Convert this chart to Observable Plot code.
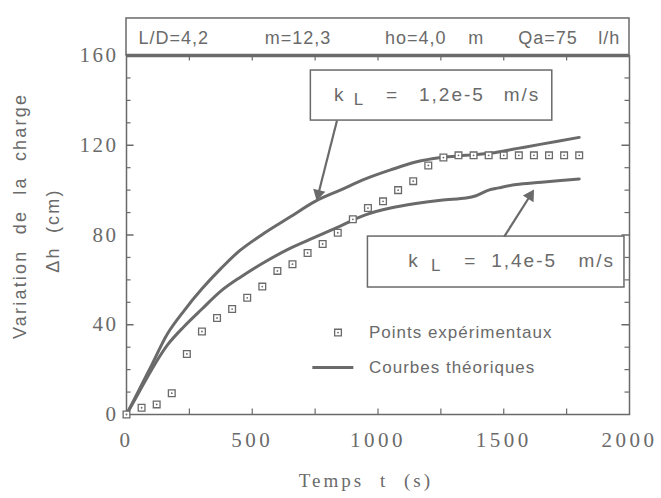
<!DOCTYPE html>
<html>
<head>
<meta charset="utf-8">
<script src="https://cdn.jsdelivr.net/npm/d3@7"></script>
<script src="https://cdn.jsdelivr.net/npm/@observablehq/plot@0.6"></script>
<style>
  html, body { margin: 0; padding: 0; background: #fff; }
  #chart svg { display: block; }
</style>
</head>
<body>
<div id="chart"></div>
<script>
// Experimental points (Points expérimentaux)
const expT = [0,60,120,180,240,300,360,420,480,540,600,660,720,780,840,900,960,1020,1080,1140,1200,1260,1320,1380,1440,1500,1560,1620,1680,1740,1800];
const expH = [0,3,4.5,9.5,27,37,43,47,52,57,64,67,72,76,81,87,92,95,100,104,111,114.5,115.5,115.5,115.5,115.5,115.5,115.5,115.5,115.5,115.5];

// Theoretical curve kL = 1.2e-5 m/s
const upT = [0,50,100,163,227,300,375,450,550,650,750,850,950,1050,1150,1250,1350,1450,1550,1650,1800];
const upH = [0,11,22,36,46,56,65,73,81,88,95,100,105,109,112.5,114.5,115.5,116.5,118.5,120.5,123.5];

// Theoretical curve kL = 1.4e-5 m/s
const loT = [0,50,100,163,227,300,375,450,550,650,750,850,950,1050,1150,1250,1350,1390,1440,1480,1550,1650,1800];
const loH = [0,10,20,31,39,47,55,61,68,74,79,84,89,92,94,95.5,96.5,97.5,100,101,102.5,103.5,105];

// Axis ticks
const xLabelTicks = [0,500,1000,1500,2000];
const xMinorTicks = [250,500,750,1000,1250,1500,1750];
const yLabelTicks = [0,40,80,120,160];
const yMinorTicks = [10,20,30,50,60,70,90,100,110,130,140,150];
const yMajorTicks = [40,80,120];

// Header texts
const headerTexts = ["L/D=4,2", "m=12,3", "ho=4,0", "m", "Qa=75", "l/h"];
const headerX = [48, 550, 1028, 1359, 1558, 1876];

const gray = "#6a6a6a";
const sans = "'Liberation Sans', Arial, sans-serif";
const serif = "'Liberation Serif', 'Times New Roman', serif";

const exp = expT.map((t, i) => ({t, h: expH[i]}));
const up = upT.map((t, i) => ({t, h: upH[i]}));
const lo = loT.map((t, i) => ({t, h: loH[i]}));
const header = headerTexts.map((s, i) => ({s, t: headerX[i]}));

const chart = Plot.plot({
  width: 661,
  height: 498,
  marginLeft: 126,
  marginRight: 32,
  marginTop: 55,
  marginBottom: 84,
  style: {fontFamily: sans, color: gray, background: "#fff"},
  x: {domain: [0, 2000]},
  y: {domain: [0, 160]},
  marks: [
    // header box
    Plot.rect([0], {x1: 0, x2: 2000, y1: 160, y2: 176.5, fill: "white", stroke: gray, strokeWidth: 1.5}),
    Plot.text(header, {x: "t", y: 167.6, text: "s", textAnchor: "start", fontSize: 18, fill: gray, fontFamily: sans}),
    // frame
    Plot.frame({stroke: gray, strokeWidth: 1.5}),
    Plot.ruleY([160], {stroke: gray, strokeWidth: 3.5}),
    // inward ticks
    Plot.ruleX(xMinorTicks, {y1: 0, y2: 2.4, stroke: gray, strokeWidth: 1.2}),
    Plot.ruleX(xMinorTicks, {y1: 160, y2: 157.6, stroke: gray, strokeWidth: 1.2}),
    Plot.ruleY(yMinorTicks, {x1: 0, x2: 18, stroke: gray, strokeWidth: 1.2}),
    Plot.ruleY(yMajorTicks, {x1: 0, x2: 30, stroke: gray, strokeWidth: 1.5}),
    Plot.ruleY(yMinorTicks, {x1: 2000, x2: 1982, stroke: gray, strokeWidth: 1.2}),
    Plot.ruleY(yMajorTicks, {x1: 2000, x2: 1970, stroke: gray, strokeWidth: 1.5}),
    // axes labels
    Plot.axisX({ticks: xLabelTicks, tickFormat: "d", tickSize: 0, tickPadding: 18, fontSize: 21, fontFamily: serif, fill: gray, label: null}),
    Plot.axisY({ticks: yLabelTicks, tickFormat: "d", tickSize: 0, tickPadding: 8, fontSize: 21, fontFamily: serif, fill: gray, label: null}),
    Plot.text(["Temps t (s)"], {x: 952, y: -29.5, fontSize: 19, fontFamily: serif, fill: gray}),
    Plot.text(["Variation de la charge"], {x: -422, y: 88.5, rotate: -90, fontSize: 18, fontFamily: sans, fill: gray}),
    Plot.text(["\u0394h (cm)"], {x: -292, y: 82, rotate: -90, fontSize: 18, fontFamily: sans, fill: gray}),
    // curves
    Plot.line(up, {x: "t", y: "h", stroke: gray, strokeWidth: 3, curve: "catmull-rom"}),
    Plot.line(lo, {x: "t", y: "h", stroke: gray, strokeWidth: 3, curve: "catmull-rom"}),
    // experimental points
    Plot.dot(exp, {x: "t", y: "h", symbol: "square", r: 3.8, stroke: gray, strokeWidth: 1.3, fill: "white"}),
    Plot.dot(exp, {x: "t", y: "h", r: 0.9, fill: gray}),
    // kL boxes
    Plot.rect([0], {x1: 733, x2: 1693, y1: 131, y2: 153.3, fill: "white", stroke: gray, strokeWidth: 1.5}),
    Plot.text(["k"], {x: 825, y: 142.4, textAnchor: "start", fontSize: 19, fill: gray}),
    Plot.text(["L"], {x: 904, y: 140.2, textAnchor: "start", fontSize: 17, fill: gray}),
    Plot.text(["="], {x: 1032, y: 142.4, textAnchor: "start", fontSize: 19, fill: gray}),
    Plot.text(["1,2e-5"], {x: 1163, y: 142.4, textAnchor: "start", fontSize: 19, fill: gray}),
    Plot.text(["m/s"], {x: 1500, y: 142.4, textAnchor: "start", fontSize: 19, fill: gray}),
    Plot.rect([0], {x1: 960, x2: 1980, y1: 56.6, y2: 79.3, fill: "white", stroke: gray, strokeWidth: 1.5}),
    Plot.text(["k"], {x: 1120, y: 68.6, textAnchor: "start", fontSize: 19, fill: gray}),
    Plot.text(["L"], {x: 1211, y: 66.4, textAnchor: "start", fontSize: 17, fill: gray}),
    Plot.text(["="], {x: 1343, y: 68.6, textAnchor: "start", fontSize: 19, fill: gray}),
    Plot.text(["1,4e-5"], {x: 1450, y: 68.6, textAnchor: "start", fontSize: 19, fill: gray}),
    Plot.text(["m/s"], {x: 1797, y: 68.6, textAnchor: "start", fontSize: 19, fill: gray}),
    // arrows (shaft + filled head)
    Plot.link([0], {x1: 837, y1: 131, x2: 763, y2: 98.4, stroke: gray, strokeWidth: 2.2}),
    Plot.dot([0], {x: 763, y: 98.4, symbol: "triangle2", r: 6, rotate: 194, fill: gray, stroke: "none"}),
    Plot.link([0], {x1: 1502, y1: 79.3, x2: 1605, y2: 97.5, stroke: gray, strokeWidth: 2.2}),
    Plot.dot([0], {x: 1605, y: 97.5, symbol: "triangle2", r: 6, rotate: 32, fill: gray, stroke: "none"}),
    // legend
    Plot.dot([0], {x: 841, y: 36.5, symbol: "square", r: 3.8, stroke: gray, strokeWidth: 1.3, fill: "white"}),
    Plot.dot([0], {x: 841, y: 36.5, r: 0.9, fill: gray}),
    Plot.text(["Points expérimentaux"], {x: 964, y: 36.5, textAnchor: "start", fontSize: 17, fill: gray}),
    Plot.ruleY([20.9], {x1: 741, x2: 904, stroke: gray, strokeWidth: 3}),
    Plot.text(["Courbes théoriques"], {x: 964, y: 20.9, textAnchor: "start", fontSize: 17, fill: gray})
  ]
});

// letter spacing for scanned-look text
const spacing = new Map([
  ["Variation de la charge", [2.2, 8]],
  ["\u0394h (cm)", [2.2, 6]],
  ["Temps t (s)", [3, 8]],
  ["Points expérimentaux", [1, 0]],
  ["Courbes théoriques", [1, 0]],
  ["1,2e-5", [2, 0]], ["1,4e-5", [2, 0]], ["m/s", [2, 0]]
]);
headerTexts.forEach(s => spacing.set(s, [1, 0]));
d3.select(chart).selectAll("text").each(function() {
  const sp = spacing.get(this.textContent);
  if (sp) {
    this.setAttribute("letter-spacing", sp[0] + "px");
    if (sp[1]) this.setAttribute("word-spacing", sp[1] + "px");
  }
});
d3.select(chart).selectAll('g[aria-label="x-axis tick label"] text').attr("letter-spacing", "3.5px");
d3.select(chart).selectAll('g[aria-label="y-axis tick label"] text').attr("letter-spacing", "2.5px");
document.getElementById("chart").appendChild(chart);
</script>
</body>
</html>
